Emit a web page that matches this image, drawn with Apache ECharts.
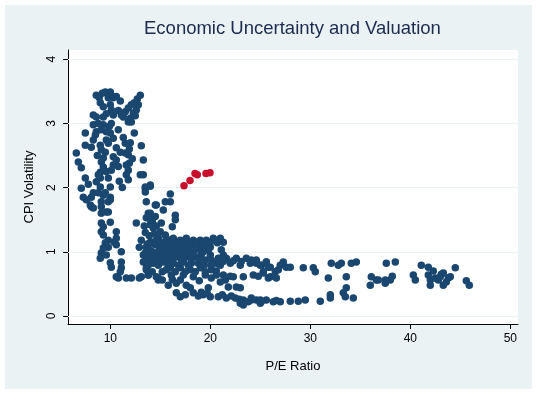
<!DOCTYPE html>
<html><head><meta charset="utf-8">
<script src="https://cdn.jsdelivr.net/npm/echarts@6/dist/echarts.min.js"></script>
<style>html,body{margin:0;padding:0;background:#fff;width:537px;height:393px;overflow:hidden}
#c{position:absolute;left:5px;top:5px;width:527px;height:384px}</style>
</head><body><div id="c"></div>
<script>
const chartTitle = 'Economic Uncertainty and Valuation';
const xTitle = 'P/E Ratio';
const yTitle = 'CPI Volatility';
const xTicks = [10, 20, 30, 40, 50];
const yTicks = [0, 1, 2, 3, 4];

// [P/E ratio, CPI volatility] – earlier history (navy)
const historyLeft = [
[8.6,3.44],[8.9,3.40],[9.2,3.47],[9.5,3.49],[10.0,3.49],[10.1,3.44],[9.8,3.40],[10.3,3.40],[10.6,3.42],[11.0,3.35],
[9.0,3.32],[9.3,3.26],[10.0,3.29],[10.1,3.21],[8.3,3.13],[8.6,3.10],[9.3,3.10],[10.3,3.13],[11.1,3.13],[11.5,3.18],
[11.8,3.24],[12.1,3.29],[12.4,3.32],[12.8,3.29],[13.0,3.44],[12.6,3.21],[12.3,3.16],[12.0,3.08],[11.8,3.02],[12.1,3.02],
[8.3,2.98],[9.3,2.98],[10.1,3.00],[8.6,2.87],[9.1,2.90],[9.6,2.87],[7.5,2.85],[8.5,2.82],[10.0,2.85],[10.3,2.77],
[9.6,2.74],[12.4,2.85],[8.3,2.74],[7.5,2.66],[8.1,2.63],[9.0,2.66],[9.8,2.69],[11.5,2.69],[13.1,2.65],[9.1,2.59],
[10.6,2.62],[11.0,2.55],[11.5,2.54],[11.8,2.51],[6.6,2.54],[9.3,2.46],[10.3,2.48],[10.6,2.43],[6.8,2.40],[9.1,2.40],
[13.3,2.43],[11.6,2.35],[10.3,2.35],[9.3,2.32],[7.1,2.31],[10.1,2.27],[9.0,2.24],[11.8,2.27],[11.6,2.20],[13.0,2.20],
[13.3,2.20],[7.5,2.15],[9.0,2.15],[9.8,2.15],[8.6,2.09],[11.8,2.12],[9.0,2.01],[10.0,2.01],[7.1,1.99],[13.5,1.99],
[14.0,2.02],[8.3,1.92],[7.3,1.85],[9.3,1.88],[10.0,1.85],[13.5,1.93],
[12.7,3.38],[12.5,3.12],[11.3,3.10],[10.8,3.20],[9.6,3.15],[8.8,3.00],[9.9,2.95],[10.8,2.90],[11.3,2.78],[12.0,2.70],
[11.9,2.60],[12.2,2.45],[11.9,2.38],[10.8,2.33],[10.9,2.10],[11.2,2.00],[8.7,2.50],[8.8,2.20],[7.8,2.05],[9.6,2.25],[9.5,2.55]
];
const historyLeftLow = [
[7.6,1.81],[8.0,1.73],[8.1,1.70],[8.3,1.68],[8.1,1.85],[8.8,1.92],[9.5,1.92],[9.1,1.78],[9.8,1.78],[10.0,1.81],
[9.1,1.70],[9.1,1.60],[9.6,1.62],[9.8,1.62],[9.1,1.45],[10.0,1.46],[9.3,1.39],[9.1,1.31],[9.3,1.26],[10.6,1.31],
[10.6,1.21],[10.4,1.15],[9.8,1.18],[9.5,1.14],[9.3,1.06],[9.1,0.98],[9.0,0.90],[9.8,1.07],[9.6,0.95],[10.6,1.11],
[11.1,1.00],[10.0,0.83],[10.1,0.76],[11.1,0.84],[11.1,0.75],[11.0,0.69],[10.6,0.61],[10.8,0.59],[11.6,0.59],[12.1,0.59],
[12.9,0.59],[13.8,0.64],[13.6,0.72],[14.6,0.61],[14.8,0.56]
];
const historyMid = [
[13.1,1.18],[12.9,1.07],[13.5,0.98],[13.6,0.87],[14.2,1.00],[14.5,0.92],[14.6,0.84],[14.9,1.03],[15.3,1.14],[15.6,1.21],
[15.8,0.87],[15.6,0.72],[15.5,0.90],[13.6,1.78],[14.5,1.73],[15.5,1.78],[15.3,1.65],[13.8,1.60],[13.6,1.53],[14.2,1.50],
[12.6,1.45],[13.5,2.01],[14.0,2.04],[14.6,1.73],[16.0,1.90],[16.0,1.78],[14.0,1.60],[14.2,1.46],[16.5,1.57],[16.5,1.50],
[16.2,1.39],[14.3,1.37],[15.0,1.31],[15.5,1.26],
[13.5,1.30],[13.9,1.25],[14.4,1.28],[14.8,1.22],[13.7,1.12],[14.2,1.15],[14.8,1.12],[15.2,1.05],[15.9,1.10],[16.3,1.00],
[13.4,1.40],[14.0,1.42],[14.6,1.40],[15.1,1.45],[13.9,1.52],[14.5,1.55],
[14.0,1.15],[14.6,1.18],[15.6,1.18],[16.3,1.21],[17.0,1.18],[17.6,1.21],[18.3,1.18],[19.0,1.18],[19.6,1.18],[20.3,1.21],
[21.0,1.21],[21.3,1.15],
[13.6,1.07],[14.5,1.11],[15.3,1.07],[16.1,1.11],[16.8,1.07],[17.5,1.11],[18.1,1.11],[18.8,1.11],[19.5,1.11],[20.0,1.07],
[13.8,1.00],[14.6,0.98],[15.6,1.00],[16.6,1.00],[17.5,1.00],[18.3,1.00],[19.3,1.00],[19.8,1.03],[21.1,1.03],[21.3,0.95],
[13.3,0.95],[14.5,0.90],[15.6,0.92],[16.6,0.92],[17.6,0.92],[18.6,0.92],[19.5,0.87],
[13.3,0.84],[14.3,0.82],[15.3,0.84],[16.3,0.82],[17.3,0.84],[18.1,0.82],[18.8,0.82],
[13.6,0.75],[16.0,0.75],[17.0,0.75],[18.0,0.72],[19.0,0.75],[20.1,0.72],
[13.1,0.61],[13.8,0.64],[14.8,0.59],[16.1,0.64],[17.3,0.64],[18.3,0.61],[19.5,0.64],[20.1,0.59],
[15.8,0.48],[16.6,0.51],[17.6,0.48],[18.0,0.44],[19.8,0.44],[19.1,0.37],
[15.0,1.14],[15.9,1.15],[16.6,1.14],[17.3,1.15],[17.9,1.14],[18.6,1.15],[19.3,1.14],[20.0,1.15],[20.7,1.14],
[13.9,1.04],[15.7,1.04],[16.3,1.05],[17.1,1.04],[17.8,1.05],[18.6,1.04],[19.2,1.05],
[14.0,0.96],[15.1,0.96],[16.1,0.96],[17.1,0.96],[18.1,0.96],[19.1,0.96],[20.0,0.95],
[13.9,0.88],[15.1,0.88],[16.1,0.88],[17.1,0.88],[18.1,0.88],[19.0,0.88],[20.1,0.87],
[13.8,0.79],[14.8,0.79],[15.8,0.79],[16.8,0.79],[17.8,0.79],[19.4,0.79],[20.6,0.82],
[14.2,0.69],[15.2,0.69],[16.5,0.69],[17.5,0.69],[18.5,0.69],[19.5,0.69],[20.6,0.70],
[15.2,0.56],[16.2,0.57],[17.0,0.56],[18.9,0.55],[21.5,0.56]
];
const historyUpperBand = [
[20.8,0.90],[21.6,0.90],[22.6,0.90],[23.6,0.90],[24.6,0.87],[25.6,0.84],
[20.1,0.79],[21.0,0.79],[22.0,0.82],[23.0,0.79],[24.0,0.82],[25.0,0.79],[25.8,0.76],
[24.1,0.87],[24.6,0.82],[25.1,0.79],[25.6,0.84],[26.0,0.76],[26.5,0.69],[27.0,0.79],[27.3,0.84],[27.6,0.76],[28.0,0.76],
[26.0,0.61],[26.6,0.59],[25.3,0.69],[29.3,0.75],[30.3,0.75],[30.5,0.69],[32.1,0.82],[32.8,0.79],[33.1,0.82],[34.1,0.82],
[34.6,0.84],[31.8,0.59],[33.6,0.61],
[20.6,0.64],[21.3,0.64],[22.3,0.61],[23.3,0.61],[24.3,0.64],[25.3,0.67],[25.8,0.59],
[21.0,0.53],[21.8,0.45],[22.6,0.45],[23.0,0.44],
[21.3,0.85],[22.3,0.86],[23.1,0.85],[26.8,0.72],[22.0,0.62],[24.8,0.62]
];
const historyLowerBand = [
[16.6,0.36],[17.5,0.33],[18.3,0.36],[19.3,0.33],[20.0,0.30],[20.8,0.30],[21.6,0.28],[22.5,0.28],[23.3,0.25],[24.1,0.25],
[25.0,0.25],[25.6,0.25],[23.0,0.20],[23.3,0.17],[25.0,0.20],
[24.1,0.28],[24.6,0.25],[25.1,0.22],[26.3,0.22],[27.0,0.22],[28.0,0.23],[28.8,0.23],[29.5,0.25],[31.0,0.23],
[32.0,0.28],[32.0,0.33],[33.3,0.36],[33.6,0.44],[33.5,0.30],[34.3,0.28],
[21.2,0.33],[22.1,0.31],[17.0,0.30],[18.8,0.31],[19.7,0.35],[22.9,0.26],[26.6,0.24],[23.8,0.22]
];
const historyRight = [
[36.0,0.48],[36.1,0.61],[36.6,0.56],[36.8,0.56],[37.5,0.56],[38.0,0.56],[38.2,0.62],[37.6,0.82],[38.5,0.84],[37.5,0.51],
[40.3,0.64],[40.5,0.56],[41.1,0.79],[41.8,0.76],[42.3,0.70],[41.8,0.64],[42.0,0.56],[42.5,0.59],[42.8,0.56],[43.1,0.65],
[43.3,0.67],[43.0,0.61],[43.8,0.59],[44.0,0.61],[43.6,0.53],[43.3,0.48],[42.0,0.48],[44.5,0.75],[45.6,0.55],[45.9,0.48]
];
// recent observations (red)
const recentPoints = [[17.37,2.03],[17.97,2.11],[18.47,2.22],[18.70,2.20],[19.57,2.22],[19.97,2.23]];

const historyPoints = [].concat(historyLeft, historyLeftLow, historyMid, historyUpperBand, historyLowerBand, historyRight);

const FONT = "'Liberation Sans', Arial, sans-serif";
const chart = echarts.init(document.getElementById('c'));
chart.setOption({
  animation: false,
  backgroundColor: '#eaf2f3',
  graphic: [{
    type: 'text', left: 288 - 149, top: 14,
    style: { text: chartTitle, fill: '#1b2a4e', font: '18.5px ' + FONT }
  }],
  grid: { left: 63, top: 45, right: 14, bottom: 65, show: true, backgroundColor: '#ffffff', borderWidth: 0 },
  xAxis: {
    type: 'value', min: 5.77, max: 50.77,
    axisLine: { show: true, onZero: false, lineStyle: { color: '#000', width: 1 } },
    axisTick: { show: true, length: 5, customValues: xTicks, lineStyle: { color: '#000', width: 1 } },
    axisLabel: { customValues: xTicks, color: '#000', fontSize: 12, fontFamily: FONT, margin: 9 },
    splitLine: { show: false },
    name: xTitle, nameLocation: 'middle', nameGap: 36,
    nameTextStyle: { color: '#000', fontSize: 13, fontFamily: FONT }
  },
  yAxis: {
    type: 'value', min: -0.125, max: 4.143,
    axisLine: { show: true, onZero: false, lineStyle: { color: '#000', width: 1 } },
    axisTick: { show: true, length: 5, customValues: yTicks, lineStyle: { color: '#000', width: 1 } },
    axisLabel: { customValues: yTicks, rotate: 90, color: '#000', fontSize: 12, fontFamily: FONT, margin: 10 },
    splitLine: { show: false },
    name: yTitle, nameLocation: 'middle', nameGap: 32, nameRotate: 90,
    nameTextStyle: { color: '#000', fontSize: 13, fontFamily: FONT }
  },
  series: [
    { type: 'line', data: [], silent: true, z: 1,
      markLine: { silent: true, z: 1, symbol: 'none', label: { show: false },
        lineStyle: { color: '#eaf2f3', width: 1, type: 'solid' },
        data: yTicks.map(v => ({ yAxis: v })) } },
    { type: 'scatter', data: historyPoints, symbol: 'circle', symbolSize: 7.5, z: 3,
      itemStyle: { color: '#1a476f', opacity: 1 } },
    { type: 'scatter', data: recentPoints, symbol: 'circle', symbolSize: 7.5, z: 4,
      itemStyle: { color: '#c8102e', opacity: 1 } }
  ]
});
</script></body></html>
